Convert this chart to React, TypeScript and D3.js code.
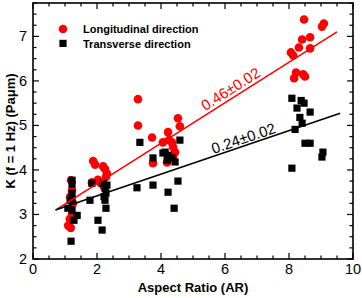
import React, { useEffect, useRef } from 'react';
import * as d3 from 'd3';

// Longitudinal direction (red circles): [aspect ratio, K]
const longAR = [1.19, 1.22, 1.16, 1.25, 1.22, 1.28, 1.15, 1.10, 1.18,
  1.88, 1.94, 2.19, 2.25, 2.31, 2.28, 1.84, 2.03, 2.12, 2.22,
  3.28, 3.28, 3.72, 4.06, 4.22, 4.53, 4.59, 4.25, 4.34, 4.38, 4.44, 3.75, 4.19, 4.38,
  8.47, 9.09, 9.03, 8.66, 8.41, 8.31, 8.66, 8.13, 8.06, 8.22, 8.44, 8.50, 8.16];
const longK = [3.77, 3.55, 3.40, 3.25, 3.00, 2.95, 2.90, 2.75, 2.70,
  4.20, 4.12, 4.08, 4.02, 3.92, 3.84, 3.72, 3.78, 3.70, 3.62,
  5.59, 5.00, 4.73, 4.62, 4.85, 5.16, 4.98, 4.67, 4.62, 4.51, 4.40, 4.15, 4.17, 4.29,
  7.38, 7.29, 7.22, 6.98, 6.93, 6.75, 6.73, 6.57, 6.64, 6.19, 6.15, 6.10, 6.06];

// Transverse direction (black squares)
const transAR = [1.22, 1.22, 1.22, 1.16, 1.09, 1.22, 1.38, 1.28, 1.19, 1.22,
  1.84, 2.19, 2.25, 2.28, 2.25, 2.28, 1.78, 2.03, 2.16, 2.31, 2.22,
  3.34, 3.25, 3.75, 3.75, 4.06, 4.19, 4.13, 4.22, 4.34, 4.44, 4.59, 4.53, 4.22, 4.41,
  8.09, 8.38, 8.47, 8.25, 8.66, 8.34, 8.41, 8.19, 8.50, 8.66, 9.06, 9.03, 8.09];
const transK = [3.77, 3.68, 3.48, 3.32, 3.14, 3.10, 2.98, 2.87, 2.40, 3.35,
  3.70, 3.70, 3.59, 3.48, 3.32, 3.14, 3.32, 2.87, 2.65, 3.66, 3.40,
  4.62, 3.60, 3.66, 4.27, 4.38, 4.22, 4.40, 4.33, 4.27, 4.18, 4.67, 3.75, 3.50, 3.14,
  5.61, 5.56, 5.50, 5.39, 5.30, 5.18, 5.05, 4.91, 4.60, 4.60, 4.40, 4.29, 4.04];

// linear fits: [intercept, slope, x start, x end]
const longFit = [2.78, 0.455, 0.75, 9.5];
const transFit = [2.93, 0.244, 0.7, 9.6];

const xTicks = [0, 2, 4, 6, 8, 10];
const yTicks = [2, 3, 4, 5, 6, 7];

const App = () => {
  const ref = useRef<SVGSVGElement>(null);

  useEffect(() => {
    document.body.style.margin = '0';
    const svg = d3.select(ref.current);
    svg.selectAll('*').remove();

    const left = 33, right = 353, top = 3, bottom = 259;
    const x = d3.scaleLinear().domain([0, 10]).range([left, right]);
    const y = d3.scaleLinear().domain([2, 7.75]).range([bottom, top]);
    const font = 'Arial, "Liberation Sans", sans-serif';

    // ticks on all four sides, pointing inward
    const ticks = svg.append('g').attr('stroke', '#000').attr('stroke-width', 1.2);
    d3.range(0, 10.01, 0.5).forEach((v) => {
      const len = v % 2 === 0 ? 6 : 3.5;
      ticks.append('line').attr('x1', x(v)).attr('x2', x(v)).attr('y1', bottom).attr('y2', bottom - len);
      ticks.append('line').attr('x1', x(v)).attr('x2', x(v)).attr('y1', top).attr('y2', top + len);
    });
    d3.range(2, 7.76, 0.25).forEach((v) => {
      const len = Math.abs(v - Math.round(v)) < 0.01 ? 6 : 3.5;
      ticks.append('line').attr('y1', y(v)).attr('y2', y(v)).attr('x1', left).attr('x2', left + len);
      ticks.append('line').attr('y1', y(v)).attr('y2', y(v)).attr('x1', right).attr('x2', right - len);
    });

    // frame
    svg.append('rect')
      .attr('x', left).attr('y', top)
      .attr('width', right - left).attr('height', bottom - top)
      .attr('fill', 'none').attr('stroke', '#000').attr('stroke-width', 1.6);

    // tick labels
    svg.append('g').selectAll('text').data(xTicks).enter().append('text')
      .attr('x', (d) => x(d)).attr('y', 274)
      .attr('text-anchor', 'middle')
      .style('font-family', font).style('font-size', '14.5px')
      .text((d) => d);
    svg.append('g').selectAll('text').data(yTicks).enter().append('text')
      .attr('x', 27).attr('y', (d) => y(d) + 5)
      .attr('text-anchor', 'end')
      .style('font-family', font).style('font-size', '14.5px')
      .text((d) => d);

    // axis titles
    svg.append('text')
      .attr('x', (left + right) / 2).attr('y', 292)
      .attr('text-anchor', 'middle')
      .style('font-family', font).style('font-size', '13px').style('font-weight', 'bold')
      .text('Aspect Ratio  (AR)');
    svg.append('text')
      .attr('transform', `translate(15, ${(top + bottom) / 2}) rotate(-90)`)
      .attr('text-anchor', 'middle')
      .style('font-family', font).style('font-size', '13px').style('font-weight', 'bold')
      .text('K (f = 1 Hz) (Paμm)');

    // points
    svg.append('g').selectAll('circle').data(longAR).enter().append('circle')
      .attr('cx', (d) => x(d)).attr('cy', (d, i) => y(longK[i]))
      .attr('r', 4.3).attr('fill', '#ff0000');
    svg.append('g').selectAll('rect').data(transAR).enter().append('rect')
      .attr('x', (d) => x(d) - 3.6).attr('y', (d, i) => y(transK[i]) - 3.6)
      .attr('width', 7.2).attr('height', 7.2).attr('fill', '#000');

    // fit lines
    const fits = [{ f: longFit, c: '#ff0000' }, { f: transFit, c: '#000' }];
    fits.forEach(({ f, c }) => {
      svg.append('line')
        .attr('x1', x(f[2])).attr('y1', y(f[0] + f[1] * f[2]))
        .attr('x2', x(f[3])).attr('y2', y(f[0] + f[1] * f[3]))
        .attr('stroke', c).attr('stroke-width', 1.6);
    });

    // slope labels, rotated along their lines
    const slopeLabels = [
      { f: longFit, ax: 6.26, ay: 5.72, c: '#ff0000', t: '0.46±0.02' },
      { f: transFit, ax: 6.63, ay: 4.6, c: '#000', t: '0.24±0.02' },
    ];
    slopeLabels.forEach((s) => {
      const ang = Math.atan2(y(s.f[1]) - y(0), x(1) - x(0)) * 180 / Math.PI;
      svg.append('text')
        .attr('transform', `translate(${x(s.ax)}, ${y(s.ay)}) rotate(${ang})`)
        .attr('text-anchor', 'middle')
        .attr('fill', s.c)
        .style('font-family', font).style('font-size', '15px')
        .text(s.t);
    });

    // legend
    const legend = svg.append('g').style('font-family', font).style('font-size', '11px').style('font-weight', 'bold');
    legend.append('circle').attr('cx', 63).attr('cy', 29).attr('r', 4.3).attr('fill', '#ff0000');
    legend.append('text').attr('x', 83).attr('y', 33).text('Longitudinal direction');
    legend.append('rect').attr('x', 59.4).attr('y', 39.8).attr('width', 7.2).attr('height', 7.2).attr('fill', '#000');
    legend.append('text').attr('x', 83).attr('y', 47.5).text('Transverse direction');
  }, []);

  return (
    <div className="chart">
      <svg ref={ref} width="362" height="298" style={{ display: 'block' }}></svg>
    </div>
  );
};

export default App;
